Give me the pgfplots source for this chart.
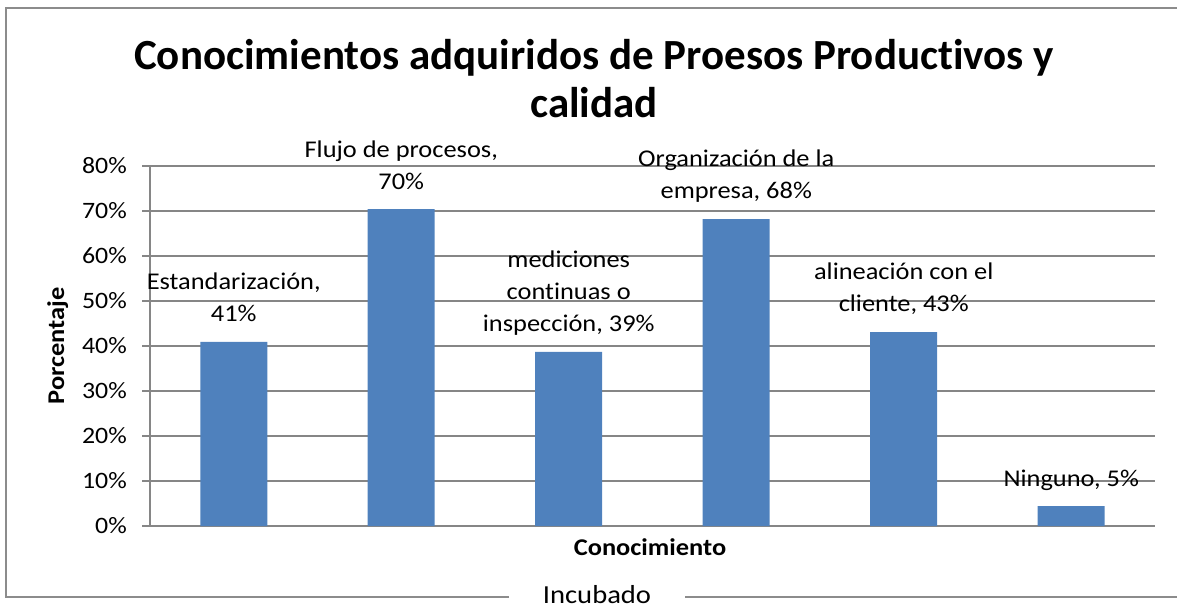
\documentclass[border=0pt]{standalone}
\usepackage{fontspec}
\setmainfont{Carlito}[FakeStretch=1.1, Ligatures=NoCommon]
\newfontfamily\titlefont{Carlito}[Ligatures=NoCommon]
\usepackage{pgfplots}
\pgfplotsset{compat=1.18}
\definecolor{barblue}{RGB}{79,129,189}
\definecolor{gridgray}{RGB}{134,134,134}
\definecolor{framegray}{RGB}{140,140,140}
\newcommand{\pc}[1]{#1\%\hspace*{15pt}}
\begin{document}
\begin{tikzpicture}[x=1pt,y=1pt]
\useasboundingbox (0,0) rectangle (1177,606);
% outer frame
\draw[framegray, line width=2pt] (509,9) -- (5.5,9) -- (5.5,598) -- (1180,598);
\draw[framegray, line width=2pt] (685,9) -- (1180,9);
\node[anchor=base, inner sep=0pt, font=\fontsize{26}{31}\selectfont] at (597,3) {Incubado};
% title
\node[anchor=base, inner sep=0pt, font=\titlefont\fontsize{43}{48}\selectfont\bfseries] at (594,536) {Conocimientos adquiridos de Proesos Productivos y};
\node[anchor=base, inner sep=0pt, font=\titlefont\fontsize{43}{48}\selectfont\bfseries] at (594,488) {calidad};
\begin{axis}[
  at={(150pt,80pt)}, anchor=south west,
  scale only axis, width=1005pt, height=360pt,
  xmin=-0.5, xmax=5.5, ymin=0, ymax=80,
  xtick=\empty,
  ytick={0,10,20,30,40,50,60,70,80},
  yticklabels={\pc{0},\pc{10},\pc{20},\pc{30},\pc{40},\pc{50},\pc{60},\pc{70},\pc{80}},
  yticklabel style={font=\fontsize{23.5}{28}\selectfont, inner sep=0pt, anchor=east},
  axis lines=left,
  axis line style={-, draw=gridgray, line width=1.5pt},
  ymajorgrids, grid style={draw=gridgray, line width=1.5pt},
  major tick length=8pt, tick align=outside,
  ytick style={draw=gridgray, line width=1.5pt},
  clip=false,
  ybar, bar width=67pt,
  nodes near coords,
  point meta=explicit symbolic,
  every node near coord/.append style={font=\fontsize{24}{32}\selectfont, align=center, anchor=south, text depth=0pt, inner sep=0pt, yshift=20pt, text=black},
]
\addplot[fill=barblue, draw=none] coordinates {
  (0,40.9) [{Estandarización,\\41\%}]
  (1,70.4) [{Flujo de procesos,\\70\%}]
  (2,38.7) [{mediciones\\continuas o\\inspección, 39\%}]
  (3,68.2) [{Organización de la\\empresa, 68\%}]
  (4,43.1) [{alineación con el\\cliente, 43\%}]
  (5,4.4) [{Ninguno, 5\%}]
};
\end{axis}
\node[anchor=base, inner sep=0pt, font=\fontsize{24}{28}\selectfont\bfseries] at (650,51) {Conocimiento};
\node[anchor=base, inner sep=0pt, rotate=90, font=\fontsize{24}{28}\selectfont\bfseries] at (64,260) {Porcentaje};
\end{tikzpicture}
\end{document}
